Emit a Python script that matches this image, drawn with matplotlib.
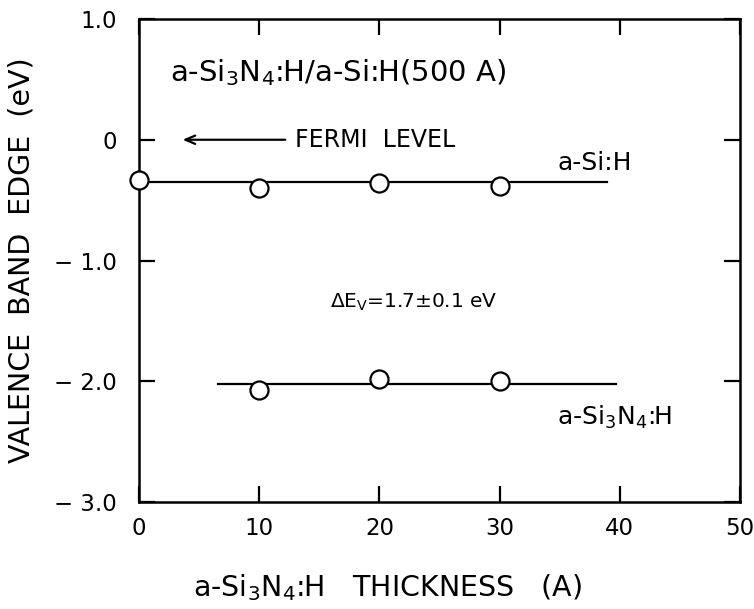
import matplotlib
matplotlib.use("Agg")
import matplotlib.pyplot as plt

plt.rcParams['font.family'] = ['DejaVu Sans']
plt.rcParams['mathtext.default'] = 'regular'

# Data
si_x = [0, 10, 20, 30]
si_y = [-0.33, -0.40, -0.36, -0.38]
si_line_x = [0, 38.9]
si_line_y = [-0.35, -0.35]

sin_x = [10, 20, 30]
sin_y = [-2.07, -1.98, -2.00]
sin_line_x = [6.6, 39.7]
sin_line_y = [-2.02, -2.02]

xticks = [0, 10, 20, 30, 40, 50]
xticklabels = ['0', '10', '20', '30', '40', '50']
yticks = [-3, -2, -1, 0, 1]
yticklabels = ['\u2212 3.0', '\u2212 2.0', '\u2212 1.0', '0', '1.0']

fig = plt.figure(figsize=(7.54, 6.09), dpi=100)
ax = fig.add_axes([139/754, 1-502/609, (740-139)/754, (502-19)/609])

lw = 1.6
ax.plot(si_line_x, si_line_y, color='black', lw=lw, zorder=2)
ax.plot(sin_line_x, sin_line_y, color='black', lw=lw, zorder=2)
ax.plot(si_x, si_y, linestyle='none', marker='o', ms=13, mfc='white',
        mec='black', mew=1.6, zorder=3, clip_on=False)
ax.plot(sin_x, sin_y, linestyle='none', marker='o', ms=13, mfc='white',
        mec='black', mew=1.6, zorder=3, clip_on=False)

ax.set_xlim(0, 50)
ax.set_ylim(-3, 1)
ax.set_xticks(xticks)
ax.set_xticklabels(xticklabels)
ax.set_yticks(yticks)
ax.set_yticklabels(yticklabels)
ax.tick_params(direction='in', top=True, right=True, length=11.5, width=1.6,
               labelsize=16.5)
ax.tick_params(axis='y', pad=16)
ax.tick_params(axis='x', pad=11)
for s in ax.spines.values():
    s.set_linewidth(1.8)

ax.set_ylabel('VALENCE  BAND  EDGE  (eV)', fontsize=20.5)
ax.yaxis.label.set_va('center')
ax.yaxis.set_label_coords(-0.195, 0.5)
ax.set_xlabel('a-Si$_3$N$_4$:H   THICKNESS   (A)', fontsize=20.5)
ax.xaxis.label.set_va('center')
ax.xaxis.set_label_coords(0.413, -0.178)

ax.text(2.6, 0.56, 'a-Si$_3$N$_4$:H/a-Si:H(500 A)', fontsize=21,
        ha='left', va='center')
ax.annotate('', xy=(3.4, 0.0), xytext=(12.4, 0.0),
            arrowprops=dict(arrowstyle='->,head_length=0.7,head_width=0.3',
                            lw=1.6, color='black'))
ax.text(13.0, 0.0, 'FERMI  LEVEL', fontsize=17, ha='left', va='center')
ax.text(34.8, -0.19, 'a-Si:H', fontsize=18, ha='left', va='center')
ax.text(15.9, -1.35, '$\\Delta$E$_V$=1.7\u00b10.1 eV', fontsize=14.5,
        ha='left', va='center')
ax.text(34.8, -2.30, 'a-Si$_3$N$_4$:H', fontsize=18, ha='left', va='center')

fig.savefig('out.png', dpi=100)
